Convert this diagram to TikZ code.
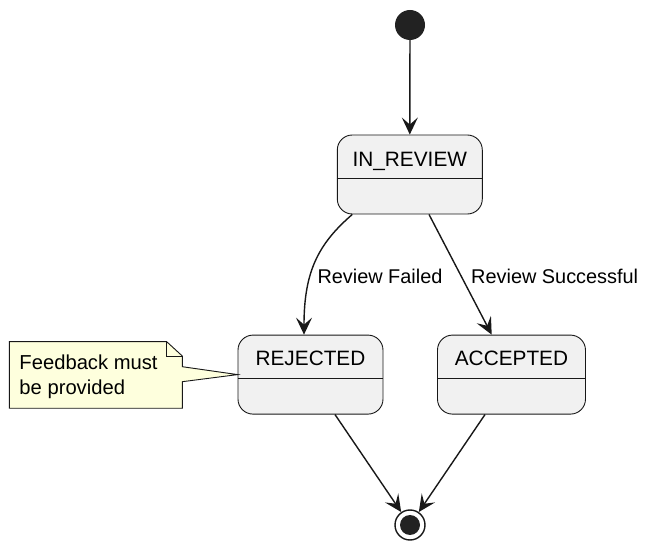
\documentclass[tikz,border=0pt]{standalone}
\usepackage{fontspec}
\setmainfont{Liberation Sans}
\usetikzlibrary{arrows.meta,calc}
\definecolor{statefill}{HTML}{F1F1F1}
\definecolor{lineclr}{HTML}{181818}
\definecolor{notefill}{HTML}{FEFFDD}
\definecolor{dotclr}{HTML}{222222}
\begin{document}
\begin{tikzpicture}[x=1pt,y=-1pt,
  statebox/.style={draw=lineclr, line width=0.9pt, fill=statefill, rounded corners=15pt, minimum width=145pt, minimum height=79pt, inner sep=0pt},
  statename/.style={font=\fontsize{20.8}{24}\selectfont, anchor=base, inner sep=0pt},
  lbl/.style={font=\fontsize{19.9}{23}\selectfont, anchor=base west, inner sep=0pt},
  notetext/.style={font=\fontsize{20.2}{25}\selectfont, anchor=base west, inner sep=0pt},
  edge/.style={draw=lineclr, line width=1.4pt, -{Stealth[length=17pt, width=16pt, inset=7pt]}},
  startdot/.style={circle, fill=dotclr, minimum size=30pt, inner sep=0pt},
  enddot/.style={circle, draw=lineclr, line width=1.4pt, fill=white, minimum size=30pt, inner sep=0pt},
  innerdot/.style={circle, fill=dotclr, minimum size=20pt, inner sep=0pt}]
\useasboundingbox (0,0) rectangle (649,548);

% start / end
\node[startdot] (start) at (410,25) {};
\node[enddot] (final) at (410,525) {};
\node[innerdot] (finalin) at (410,525) {};

% states
\node[statebox] (inrev) at (409.8,174.5) {};
\node[statename] (inrevname) at ($(inrev.north)+(0,31.5)$) {IN\_REVIEW};
\draw[draw=lineclr, line width=0.9pt] ($(inrev.north west)+(0,44.3)$) -- ($(inrev.north east)+(0,44.3)$);

\node[statebox] (rej) at (310.5,374.6) {};
\node[statename] (rejname) at ($(rej.north)+(0,30.7)$) {REJECTED};
\draw[draw=lineclr, line width=0.9pt] ($(rej.north west)+(0,44.3)$) -- ($(rej.north east)+(0,44.3)$);

\node[statebox, minimum width=148pt] (acc) at (511.5,374.6) {};
\node[statename] (accname) at ($(acc.north)+(0,30.7)$) {ACCEPTED};
\draw[draw=lineclr, line width=0.9pt] ($(acc.north west)+(0,44.3)$) -- ($(acc.north east)+(0,44.3)$);

% note
\coordinate (nA) at (9.3,341.7);
\coordinate (nB) at (166.7,341.7);
\coordinate (nC) at (182.3,356);
\coordinate (nD) at (182.3,408.3);
\coordinate (nE) at (9.3,408.3);
\coordinate (tail) at (rej.west);
\draw[draw=lineclr, line width=0.9pt, fill=notefill, line join=miter]
  (nA) -- (nB) -- (nC) -- (182.3,366.7) -- (tail) -- (182.3,381.7) -- (nD) -- (nE) -- cycle;
\draw[draw=lineclr, line width=0.9pt] (nB) -- (166.7,356) -- (nC);
\node[notetext] (notetxt1) at (19.3,370) {Feedback must};
\node[notetext] (notetxt2) at (19.3,395) {be provided};

% edges
\draw[edge] (start) -- (inrev.north);
\draw[edge] ($(inrev.south)+(-57.5,0)$) .. controls (318,244) and (304,272) .. ($(rej.north)+(-6.5,0)$);
\draw[edge] ($(inrev.south)+(19.2,0)$) -- ($(acc.north)+(-19.8,0)$);
\draw[edge] ($(rej.south)+(24.5,0)$) -- (final);
\draw[edge] ($(acc.south)+(-26.5,0)$) -- (final);

% labels
\node[lbl] (lblfail) at (317.3,283.3) {Review Failed};
\node[lbl] (lblsucc) at (471,283.3) {Review Successful};
\end{tikzpicture}
\end{document}
